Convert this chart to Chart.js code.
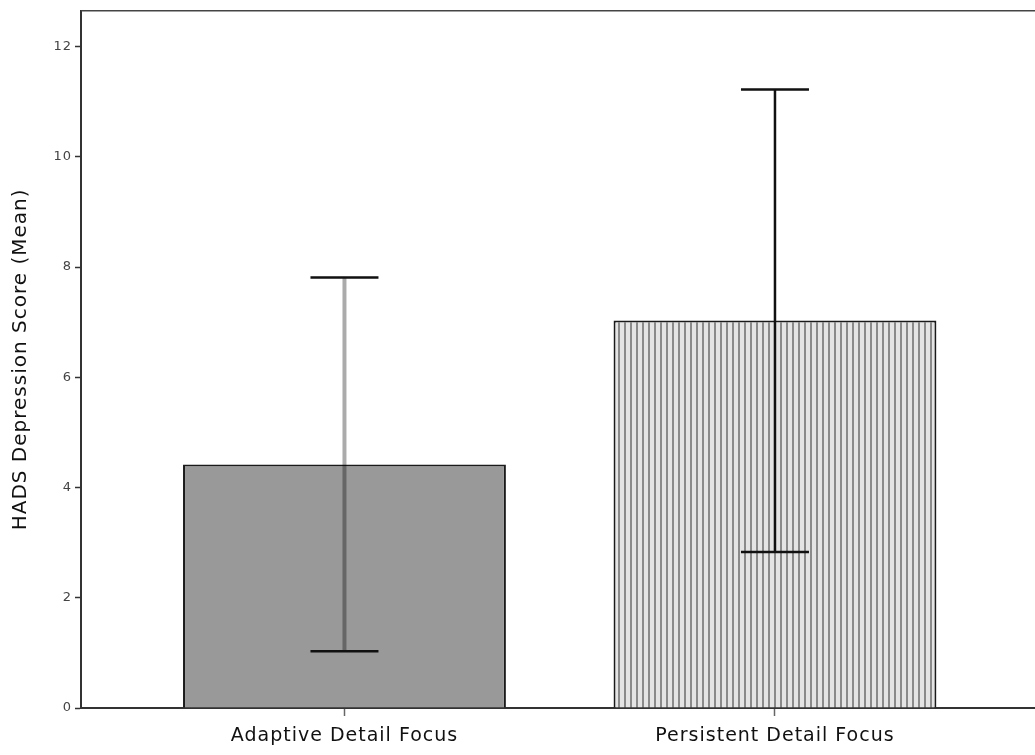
<!DOCTYPE html>
<html>
<head>
<meta charset="utf-8">
<script src="https://cdn.jsdelivr.net/npm/chart.js@4"></script>
<style>
  body { margin: 0; background: #fff; }
  #wrap { width: 1035px; height: 755px; }
</style>
</head>
<body>
<div id="wrap"><canvas id="hadsChart" width="1035" height="755"></canvas></div>
<script>
const categories = ['Adaptive Detail Focus', 'Persistent Detail Focus'];
const positions = [1, 2];
const means = [4.42, 7.03];
const errLow = [1.03, 2.83];
const errHigh = [7.81, 11.22];
const yTicks = [0, 2, 4, 6, 8, 10, 12];

// vertical stripe fill for the second bar
function stripePattern() {
    const c = document.createElement('canvas');
    c.width = 6;
    c.height = 6;
    const g = c.getContext('2d');
    g.fillStyle = '#e4e4e4';
    g.fillRect(0, 0, 6, 6);
    g.fillStyle = '#8a8a8a';
    g.fillRect(0, 0, 2, 6);
    return g.createPattern(c, 'repeat');
}

// the original text is loosely spaced
const spacing = {
    id: 'spacing',
    beforeLayout(chart) { chart.ctx.letterSpacing = '1px'; },
    beforeDraw(chart) { chart.ctx.letterSpacing = '1px'; }
};

const errorBars = {
    id: 'errorBars',
    afterDatasetsDraw(chart) {
        const ctx = chart.ctx;
        const xs = chart.scales.x, ys = chart.scales.y;
        ctx.save();
        positions.forEach((p, i) => {
            const x = xs.getPixelForValue(p);
            const yl = ys.getPixelForValue(errLow[i]);
            const yh = ys.getPixelForValue(errHigh[i]);
            ctx.strokeStyle = i === 0 ? 'rgba(0,0,0,0.33)' : '#111';
            ctx.lineWidth = i === 0 ? 4 : 2.5;
            ctx.beginPath();
            ctx.moveTo(x, yl);
            ctx.lineTo(x, yh);
            ctx.stroke();
            ctx.strokeStyle = '#111';
            ctx.lineWidth = 2.5;
            ctx.beginPath();
            ctx.moveTo(x - 34, yh);
            ctx.lineTo(x + 34, yh);
            ctx.moveTo(x - 34, yl);
            ctx.lineTo(x + 34, yl);
            ctx.stroke();
        });
        ctx.restore();
    }
};

const topFrame = {
    id: 'topFrame',
    afterDraw(chart) {
        const ctx = chart.ctx, a = chart.chartArea;
        ctx.save();
        ctx.strokeStyle = '#444';
        ctx.lineWidth = 1.5;
        ctx.beginPath();
        ctx.moveTo(a.left, a.top);
        ctx.lineTo(chart.width, a.top);
        ctx.stroke();
        ctx.restore();
    }
};

const ctx = document.getElementById('hadsChart').getContext('2d');
const chart = new Chart(ctx, {
    type: 'bar',
    data: {
        datasets: [{
            data: positions.map((p, i) => ({ x: p, y: means[i] })),
            backgroundColor: ['#999999', stripePattern()],
            borderColor: '#1a1a1a',
            borderWidth: 2,
            barPercentage: 0.75,
            categoryPercentage: 1
        }]
    },
    options: {
        responsive: false,
        animation: false,
        layout: { padding: { top: 10, right: 0, left: 0, bottom: 0 } },
        plugins: { legend: { display: false }, tooltip: { enabled: false } },
        scales: {
            x: {
                type: 'linear',
                offset: false,
                min: 0.388,
                max: 2.604,
                afterBuildTicks: scale => { scale.ticks = positions.map(v => ({ value: v })); },
                afterFit: scale => { scale.height = 47; },
                ticks: {
                    callback: v => categories[positions.indexOf(v)] || '',
                    font: { family: 'DejaVu Sans', size: 19 },
                    color: '#111',
                    padding: 9,
                    maxRotation: 0
                },
                grid: { offset: false, drawOnChartArea: false, tickLength: 8, color: '#666', tickWidth: 1.5 },
                border: { display: true, color: '#333', width: 2 }
            },
            y: {
                min: 0,
                max: 12.65,
                afterBuildTicks: scale => { scale.ticks = yTicks.map(v => ({ value: v })); },
                afterFit: scale => { scale.width = 81; },
                ticks: {
                    font: { family: 'DejaVu Sans', size: 13 },
                    color: '#444',
                    padding: 3
                },
                grid: { drawOnChartArea: false, tickLength: 6, color: '#333', tickWidth: 1.5 },
                border: { display: true, color: '#333', width: 2 },
                title: {
                    display: true,
                    text: 'HADS Depression Score (Mean)',
                    font: { family: 'DejaVu Sans', size: 20 },
                    color: '#111',
                    padding: { top: 9, bottom: 10 }
                }
            }
        }
    },
    plugins: [spacing, errorBars, topFrame]
});
</script>
</body>
</html>
